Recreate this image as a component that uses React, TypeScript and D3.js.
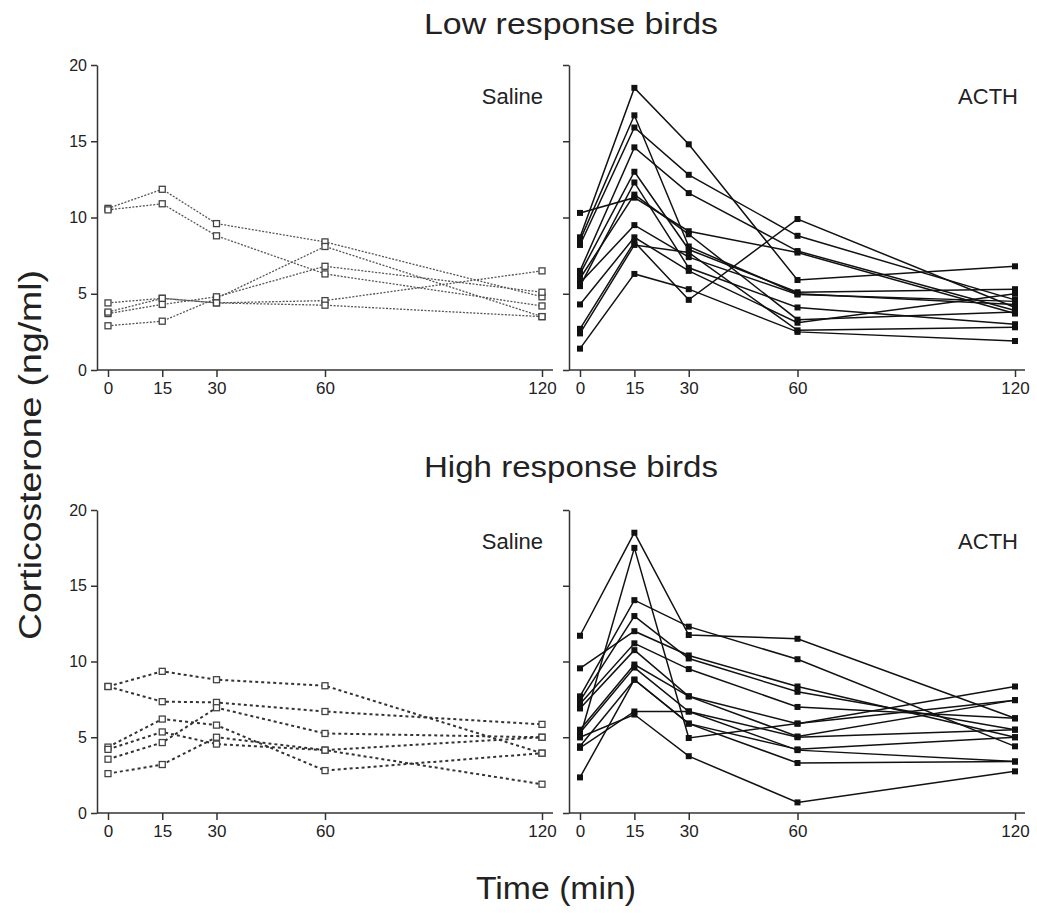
import React, { useEffect, useRef } from 'react';
import * as d3 from 'd3';

// sampling times (min) and y ticks (ng/ml)
const times = [0, 15, 30, 60, 120];
const yTicks = [0, 5, 10, 15, 20];

// one row per bird: corticosterone at 0, 15, 30, 60, 120 min
const lowSaline = [
  [10.6, 11.85, 9.6, 8.4, 4.8],
  [10.5, 10.9, 8.8, 6.3, 4.2],
  [2.9, 3.2, 4.7, 8.1, 3.5],
  [3.7, 4.3, 4.8, 6.8, 5.1],
  [4.4, 4.7, 4.4, 4.55, 6.5],
  [3.8, 4.7, 4.4, 4.25, 3.5],
];

const lowActh = [
  [8.7, 18.5, 14.8, 5.9, 6.8],
  [8.5, 16.7, 8.1, 5.0, 4.3],
  [8.2, 15.9, 12.8, 8.8, 4.6],
  [6.5, 14.6, 11.6, 7.8, 3.9],
  [10.3, 11.3, 9.1, 7.7, 3.7],
  [6.3, 13.0, 7.9, 5.1, 5.3],
  [5.5, 12.3, 6.7, 4.1, 3.0],
  [6.0, 11.5, 8.9, 3.3, 3.8],
  [5.7, 9.5, 7.4, 4.95, 4.5],
  [4.3, 8.7, 6.5, 3.1, 5.0],
  [2.7, 8.4, 4.6, 9.9, 4.1],
  [2.4, 8.2, 7.7, 2.6, 2.8],
  [1.4, 6.3, 5.3, 2.5, 1.9],
];

const highSaline = [
  [8.35, 9.35, 8.8, 8.4, 3.95],
  [8.35, 7.35, 7.3, 6.7, 5.85],
  [4.35, 6.2, 5.8, 2.8, 3.95],
  [4.2, 5.35, 4.55, 4.15, 5.0],
  [3.55, 4.65, 6.95, 5.25, 5.0],
  [2.6, 3.2, 5.0, 4.15, 1.9],
];

const highActh = [
  [11.7, 18.5, 11.75, 11.5, 6.25],
  [5.0, 17.5, 4.95, 5.9, 7.45],
  [7.7, 14.05, 12.3, 10.15, 4.4],
  [9.55, 12.0, 10.4, 8.35, 5.0],
  [7.4, 13.0, 10.2, 8.0, 5.5],
  [7.2, 11.2, 9.5, 7.0, 6.25],
  [6.9, 10.75, 7.7, 5.9, 8.35],
  [5.5, 9.8, 7.7, 5.05, 7.45],
  [5.3, 9.6, 6.7, 5.0, 5.5],
  [4.4, 8.8, 5.9, 4.2, 5.0],
  [4.3, 6.7, 6.7, 4.15, 3.4],
  [5.0, 6.5, 3.75, 0.7, 2.75],
  [2.35, 8.8, 5.9, 3.3, 3.4],
];

const W = 1037;
const H = 913;
const FONT = "'Liberation Sans', Arial, sans-serif";

export default function App() {
  const ref = useRef<SVGSVGElement>(null);

  useEffect(() => {
    if (!ref.current) return;
    const svg = d3.select(ref.current);
    svg.selectAll('*').remove();

    const rows = [
      { title: 'Low response birds', titleY: 34, top: 65, bottom: 370, saline: lowSaline, acth: lowActh, thin: true },
      { title: 'High response birds', titleY: 477, top: 510, bottom: 813, saline: highSaline, acth: highActh, thin: false },
    ];
    const cols = [
      { axisX: 97, x0: 108, x1: 542, end: 553, label: 'Saline', labelX: 543, yLabels: true },
      { axisX: 569, x0: 580, x1: 1015, end: 1025, label: 'ACTH', labelX: 1018, yLabels: false },
    ];

    rows.forEach(row => {
      svg.append('text')
        .attr('x', 571).attr('y', row.titleY)
        .attr('text-anchor', 'middle')
        .attr('font-family', FONT).attr('font-size', 29)
        .attr('textLength', 294).attr('lengthAdjust', 'spacingAndGlyphs')
        .attr('fill', '#222')
        .text(row.title);

      const y = d3.scaleLinear().domain([0, 20]).range([row.bottom, row.top]);

      cols.forEach((col, ci) => {
        const x = d3.scaleLinear().domain([0, 120]).range([col.x0, col.x1]);
        const g = svg.append('g');

        // y axis
        const yAxis = d3.axisLeft(y).tickValues(yTicks).tickSize(6).tickSizeOuter(0).tickPadding(4)
          .tickFormat(col.yLabels ? (d => String(d)) : () => '');
        const ya = g.append('g').attr('transform', `translate(${col.axisX},0)`).call(yAxis);
        ya.selectAll('text').attr('font-family', FONT).attr('font-size', 16).attr('fill', '#222');
        ya.selectAll('path, line').attr('stroke', '#333').attr('stroke-width', 1.5);

        // x axis
        const xAxis = d3.axisBottom(x).tickValues(times).tickSize(7).tickPadding(5);
        const xa = g.append('g').attr('transform', `translate(0,${row.bottom})`).call(xAxis);
        xa.select('.domain').remove();
        xa.selectAll('text').attr('font-family', FONT).attr('font-size', 17).attr('fill', '#222');
        xa.selectAll('line').attr('stroke', '#333').attr('stroke-width', 1.5);
        g.append('line')
          .attr('x1', col.axisX).attr('x2', col.end)
          .attr('y1', row.bottom).attr('y2', row.bottom)
          .attr('stroke', '#333').attr('stroke-width', 1.5);

        // panel label
        g.append('text')
          .attr('x', col.labelX).attr('y', row.top + 39)
          .attr('text-anchor', 'end')
          .attr('font-family', FONT).attr('font-size', 22)
          .attr('fill', '#222')
          .text(col.label);

        const isSaline = ci === 0;
        const series = isSaline ? row.saline : row.acth;
        const line = d3.line<number>().x((_, i) => x(times[i])).y(d => y(d));

        g.append('g').selectAll('path')
          .data(series)
          .join('path')
          .attr('d', d => line(d))
          .attr('fill', 'none')
          .attr('stroke', isSaline ? (row.thin ? '#555' : '#333') : '#111')
          .attr('stroke-width', isSaline ? (row.thin ? 1.3 : 2) : 1.5)
          .attr('stroke-dasharray', isSaline ? (row.thin ? '2,1.5' : '3,3') : null);

        const pts = series.flatMap(s => s.map((v, i) => ({ t: times[i], v })));
        const sz = 6;
        g.append('g').selectAll('rect')
          .data(pts)
          .join('rect')
          .attr('x', d => x(d.t) - sz / 2)
          .attr('y', d => y(d.v) - sz / 2)
          .attr('width', sz).attr('height', sz)
          .attr('fill', isSaline ? '#fff' : '#111')
          .attr('stroke', isSaline ? '#444' : 'none')
          .attr('stroke-width', 1.3);
      });
    });

    svg.append('text')
      .attr('x', 556).attr('y', 899)
      .attr('text-anchor', 'middle')
      .attr('font-family', FONT).attr('font-size', 31)
      .attr('textLength', 160).attr('lengthAdjust', 'spacingAndGlyphs')
      .attr('fill', '#222')
      .text('Time (min)');

    svg.append('text')
      .attr('transform', 'translate(41,455) rotate(-90)')
      .attr('text-anchor', 'middle')
      .attr('font-family', FONT).attr('font-size', 31)
      .attr('textLength', 370).attr('lengthAdjust', 'spacingAndGlyphs')
      .attr('fill', '#222')
      .text('Corticosterone (ng/ml)');
  }, []);

  return (
    <svg
      ref={ref}
      width={W}
      height={H}
      style={{ position: 'absolute', left: 0, top: 0, background: '#fff' }}
    />
  );
}
